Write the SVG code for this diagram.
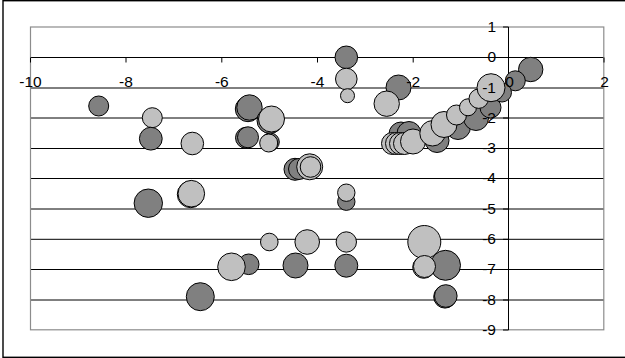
<svg xmlns="http://www.w3.org/2000/svg" width="625" height="358" viewBox="0 0 625 358">
<style>
.frame{fill:#fff;stroke:#000;stroke-width:1.4}
.plot{fill:none;stroke:#8c8c8c;stroke-width:1.2}
.grid{stroke:#000;stroke-width:1}
.tick{stroke:#000;stroke-width:1}
.d{fill:#808080;stroke:#000;stroke-width:1}
.l{fill:#c0c0c0;stroke:#000;stroke-width:1}
.lab{font-family:"Liberation Sans",Arial,sans-serif;font-size:15.5px;fill:#000}
.xl{text-anchor:middle}
.yl{text-anchor:end}
</style>
<rect class="frame" x="3" y="0.7" width="630" height="356.6"/>
<g id="gridlines">
<line class="grid" x1="30" y1="57.5" x2="604" y2="57.5"/>
<line class="grid" x1="30" y1="88" x2="604" y2="88"/>
<line class="grid" x1="30" y1="118" x2="604" y2="118"/>
<line class="grid" x1="30" y1="148.5" x2="604" y2="148.5"/>
<line class="grid" x1="30" y1="178.5" x2="604" y2="178.5"/>
<line class="grid" x1="30" y1="209" x2="604" y2="209"/>
<line class="grid" x1="30" y1="239.3" x2="604" y2="239.3"/>
<line class="grid" x1="30" y1="269.5" x2="604" y2="269.5"/>
<line class="grid" x1="30" y1="300" x2="604" y2="300"/>
</g>
<rect class="plot" x="30.5" y="27" width="573.3" height="302.8"/>
<g id="axes">
<line class="tick" x1="508.5" y1="27" x2="508.5" y2="330"/>
<line class="tick" x1="503" y1="27" x2="508.5" y2="27"/>
<line class="tick" x1="503" y1="57.5" x2="508.5" y2="57.5"/>
<line class="tick" x1="503" y1="88" x2="508.5" y2="88"/>
<line class="tick" x1="503" y1="118" x2="508.5" y2="118"/>
<line class="tick" x1="503" y1="148.5" x2="508.5" y2="148.5"/>
<line class="tick" x1="503" y1="178.5" x2="508.5" y2="178.5"/>
<line class="tick" x1="503" y1="209" x2="508.5" y2="209"/>
<line class="tick" x1="503" y1="239.3" x2="508.5" y2="239.3"/>
<line class="tick" x1="503" y1="269.5" x2="508.5" y2="269.5"/>
<line class="tick" x1="503" y1="300" x2="508.5" y2="300"/>
<line class="tick" x1="503" y1="330" x2="508.5" y2="330"/>
<line class="tick" x1="30.5" y1="57.5" x2="30.5" y2="62.5"/>
<line class="tick" x1="126" y1="57.5" x2="126" y2="62.5"/>
<line class="tick" x1="221.8" y1="57.5" x2="221.8" y2="62.5"/>
<line class="tick" x1="317.5" y1="57.5" x2="317.5" y2="62.5"/>
<line class="tick" x1="413.2" y1="57.5" x2="413.2" y2="62.5"/>
<line class="tick" x1="604" y1="57.5" x2="604" y2="62.5"/>
</g>
<g id="bubbles">
<circle class="d" cx="98.7" cy="106" r="10"/>
<circle class="l" cx="152.3" cy="117.7" r="10"/>
<circle class="d" cx="150.8" cy="138.7" r="11.4"/>
<circle class="l" cx="192.3" cy="143.5" r="11.3"/>
<circle class="d" cx="248" cy="109" r="12.7"/>
<circle class="d" cx="249.5" cy="107.5" r="12.7"/>
<circle class="d" cx="270" cy="120.5" r="13"/>
<circle class="l" cx="271.5" cy="119" r="13"/>
<circle class="d" cx="246" cy="137.8" r="10.5"/>
<circle class="d" cx="248" cy="137.3" r="10.5"/>
<circle class="d" cx="270.3" cy="142" r="9"/>
<circle class="l" cx="268.7" cy="143" r="9"/>
<circle class="d" cx="295" cy="169.3" r="11"/>
<circle class="d" cx="299" cy="169" r="10.5"/>
<circle class="l" cx="309.7" cy="166.8" r="13"/>
<circle class="l" cx="310.5" cy="167" r="10.3"/>
<circle class="d" cx="346.3" cy="57.3" r="11.3"/>
<circle class="l" cx="346.3" cy="79" r="10.8"/>
<circle class="l" cx="347.5" cy="95.7" r="7"/>
<circle class="d" cx="398.5" cy="87.5" r="12.5"/>
<circle class="l" cx="386.7" cy="103.7" r="12.7"/>
<circle class="d" cx="530.7" cy="69.5" r="12.2"/>
<circle class="d" cx="515.3" cy="80.8" r="10"/>
<circle class="d" cx="401" cy="134" r="12"/>
<circle class="d" cx="409" cy="133.5" r="12"/>
<circle class="d" cx="437" cy="140.5" r="12"/>
<circle class="d" cx="458" cy="127" r="12.5"/>
<circle class="d" cx="476" cy="118" r="12.5"/>
<circle class="d" cx="490.5" cy="107.5" r="10.5"/>
<circle class="d" cx="502" cy="92.5" r="9.5"/>
<circle class="l" cx="392.5" cy="143.5" r="11"/>
<circle class="l" cx="396.5" cy="143.5" r="11"/>
<circle class="l" cx="400.5" cy="143.5" r="11"/>
<circle class="l" cx="404.5" cy="143.5" r="11"/>
<circle class="l" cx="413" cy="141.5" r="12.5"/>
<circle class="l" cx="432.5" cy="133.3" r="12.7"/>
<circle class="l" cx="444" cy="124.5" r="13"/>
<circle class="l" cx="456.5" cy="115" r="10"/>
<circle class="l" cx="468" cy="107.3" r="8.5"/>
<circle class="l" cx="478.7" cy="98.7" r="9.7"/>
<circle class="l" cx="491" cy="87.7" r="14"/>
<circle class="d" cx="148.3" cy="203.2" r="14.2"/>
<circle class="l" cx="190.6" cy="194.4" r="13.3"/>
<circle class="l" cx="191.3" cy="193.7" r="13.3"/>
<circle class="l" cx="269.3" cy="242" r="8.8"/>
<circle class="l" cx="307.2" cy="242" r="12.3"/>
<circle class="d" cx="248.7" cy="264.3" r="10.3"/>
<circle class="l" cx="231.5" cy="266.8" r="13.8"/>
<circle class="d" cx="295.5" cy="265.5" r="12.5"/>
<circle class="d" cx="200.3" cy="296.7" r="14"/>
<circle class="d" cx="346.3" cy="201.7" r="8.7"/>
<circle class="l" cx="346.3" cy="192.7" r="8.7"/>
<circle class="l" cx="346.3" cy="242" r="10.2"/>
<circle class="d" cx="346.3" cy="265.7" r="11.5"/>
<circle class="l" cx="424.3" cy="242" r="16.5"/>
<circle class="d" cx="445.5" cy="265.3" r="15"/>
<circle class="l" cx="423.7" cy="267.3" r="11"/>
<circle class="l" cx="424.5" cy="266.5" r="11"/>
<circle class="d" cx="445" cy="296.8" r="11.3"/>
<circle class="d" cx="445.8" cy="296" r="11.3"/>
</g>
<g id="x-labels" class="lab xl">
<text x="30.5" y="87">-10</text>
<text x="126" y="87">-8</text>
<text x="221.8" y="87">-6</text>
<text x="317.5" y="87">-4</text>
<text x="413.2" y="87">-2</text>
<text x="509.5" y="87">0</text>
<text x="604.5" y="87">2</text>
</g>
<g id="y-labels" class="lab yl">
<text x="496" y="31.5">1</text>
<text x="496" y="62">0</text>
<text x="496" y="92.5">-1</text>
<text x="496" y="122.5">-2</text>
<text x="496" y="153">-3</text>
<text x="496" y="183">-4</text>
<text x="496" y="213.5">-5</text>
<text x="496" y="244">-6</text>
<text x="496" y="274">-7</text>
<text x="496" y="304.5">-8</text>
<text x="496" y="334.5">-9</text>
</g>
</svg>
